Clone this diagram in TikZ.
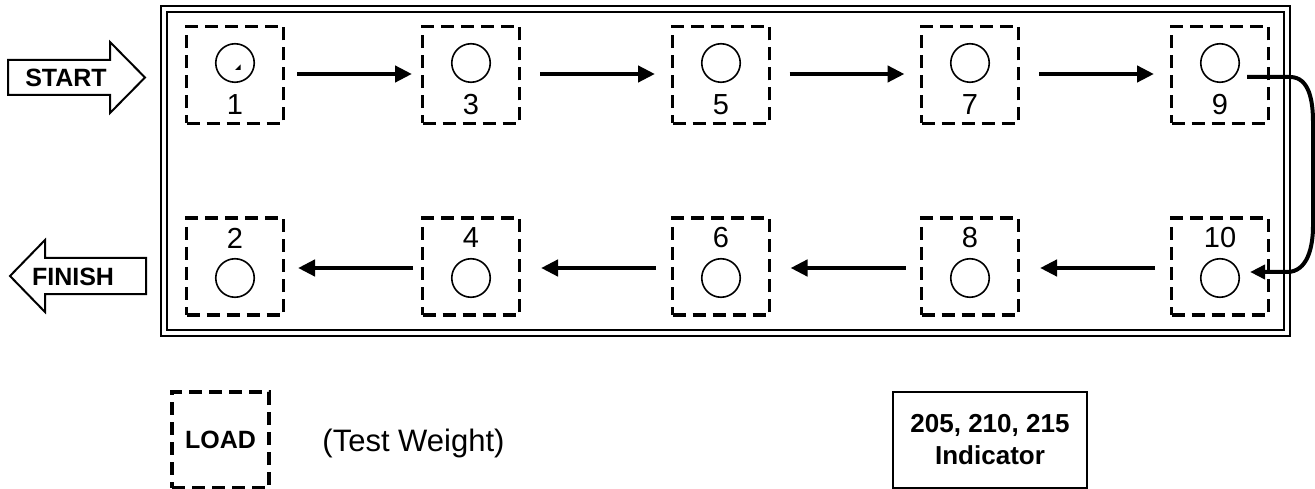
\documentclass[tikz,border=0pt]{standalone}
\usepackage{fontspec}
\setmainfont{Liberation Sans}
\usetikzlibrary{arrows.meta,calc}
\begin{document}
\begin{tikzpicture}[x=1pt,y=-1pt,
  slot/.style={draw, dash pattern=on 13pt off 7pt, line width=3.3pt, minimum width=97pt, minimum height=97pt, inner sep=0pt},
  wt/.style={draw, circle, line width=1.6pt, minimum size=38.5pt, inner sep=0pt},
  num/.style={font=\fontsize{29}{29}\selectfont, inner sep=0pt},
  flow/.style={line width=4.5pt, -{Triangle[length=17pt,width=16pt]}},
  blockarrow/.style={draw, line width=2pt, fill=white},
  blabel/.style={font=\fontsize{25}{25}\selectfont\bfseries, inner sep=0pt}]
\useasboundingbox (0,0) rectangle (1315,489);
% double frame
\draw[line width=2.3pt] (161,6) rectangle (1290,336);
\draw[line width=2.3pt] (167,12) rectangle (1284,330);
% top row
\foreach \n/\x in {1/235,3/471,5/721,7/970,9/1220}{
  \node[slot] (b\n) at (\x,75) {};
  \node[wt] (c\n) at (\x,63) {};
  \node[num] (n\n) at (\x,105) {\n};
}
% bottom row
\foreach \n/\x in {2/235,4/471,6/721,8/970,10/1220}{
  \node[slot] (b\n) at (\x,266.5) {};
  \node[wt] (c\n) at (\x,278) {};
  \node[num] (n\n) at (\x,238) {\n};
}
\fill (235,70) -- (240.5,70) -- (240.5,64.5) -- cycle;
% top arrows
\draw[flow] ($(b1.east)!.5!(b3.west)+(-56,-1)$) -- ++(115,0);
\draw[flow] ($(b3.east)!.5!(b5.west)+(-56,-1)$) -- ++(115,0);
\draw[flow] ($(b5.east)!.5!(b7.west)+(-56,-1)$) -- ++(115,0);
\draw[flow] ($(b7.east)!.5!(b9.west)+(-56,-1)$) -- ++(115,0);
% bottom arrows
\draw[flow] ($(b10.west)!.5!(b8.east)+(60,1.5)$) -- ++(-115,0);
\draw[flow] ($(b8.west)!.5!(b6.east)+(60,1.5)$) -- ++(-115,0);
\draw[flow] ($(b6.west)!.5!(b4.east)+(60,1.5)$) -- ++(-115,0);
\draw[flow] ($(b4.west)!.5!(b2.east)+(60,1.5)$) -- ++(-115,0);
% turn arrow 9 -> 10
\draw[line width=4pt, -{Triangle[length=15pt,width=14pt]}]
  ($(c9.east)+(7,14)$) -- (1290,77) to[out=0,in=90] (1313,122) -- (1313,226)
  to[out=-90,in=0] (1287,272) -- ($(c10.east)+(10,-6)$);
% START / FINISH
\draw[blockarrow] (8,60) -- (110,60) -- (110,42) -- (145,77.5) -- (110,113) -- (110,95) -- (8,95) -- cycle;
\node[blabel] (start) at (66,78) {START};
\draw[blockarrow] (10,276) -- (45,240) -- (45,258) -- (146,258) -- (146,294) -- (45,294) -- (45,312) -- cycle;
\node[blabel] (finish) at (73,277) {FINISH};
% legend
\node[slot, minimum height=96pt, font=\fontsize{25}{25}\selectfont\bfseries] (load) at (220.5,440) {LOAD};
\node[font=\fontsize{31}{31}\selectfont, inner sep=0pt] (tw) at (413.5,443) {(Test Weight)};
\node[draw, line width=2pt, minimum width=194pt, minimum height=96pt, align=center,
  font=\fontsize{26}{32}\selectfont\bfseries] (ind) at (990,440) {205, 210, 215\\Indicator};
\end{tikzpicture}
\end{document}
